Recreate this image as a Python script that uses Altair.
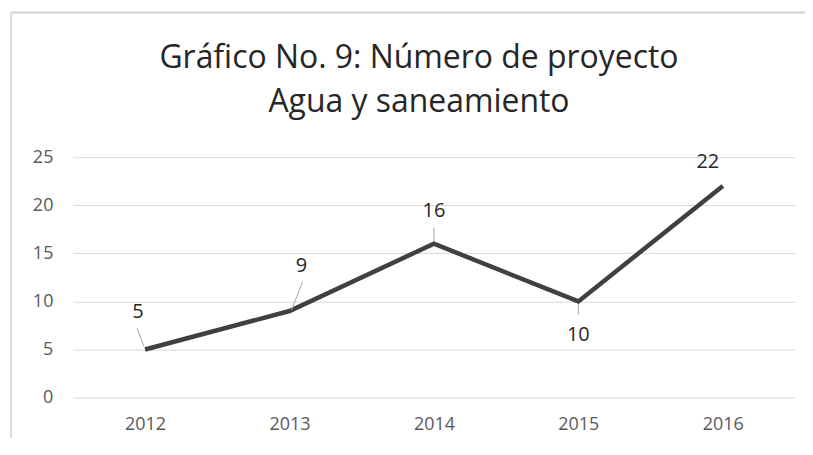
import altair as alt
import pandas as pd

years = ["2012", "2013", "2014", "2015", "2016"]
values = [5, 9, 16, 10, 22]
title_lines = ["Gráfico No. 9: Número de proyecto", "Agua y saneamiento"]
y_ticks = [0, 5, 10, 15, 20, 25]

df = pd.DataFrame({"year": years, "value": values})

FONT = "Open Sans"

# label offsets (px, relative to point) and leader lines
label_style = {
    "2012": dict(dx=-7, dy=-38, leader=(-8, -21, -1, -3)),
    "2013": dict(dx=12, dy=-45, leader=(13, -29, 2, -1)),
    "2014": dict(dx=0, dy=-33, leader=(0, -16, 0, -2)),
    "2015": dict(dx=0, dy=34, leader=(0, 3, 0, 13)),
    "2016": dict(dx=-15, dy=-24, leader=None),
}

y_scale = alt.Scale(domain=[0, 25], nice=False, zero=True)
x_scale = alt.Scale(type="point", padding=0.5)

x_enc = alt.X(
    "year:N",
    sort=years,
    scale=x_scale,
    axis=alt.Axis(
        title=None, labelAngle=0, domain=False, ticks=False,
        labelFont=FONT, labelFontSize=18, labelColor="#595959", labelPadding=18,
    ),
)
y_enc = alt.Y(
    "value:Q",
    scale=y_scale,
    axis=alt.Axis(
        title=None, values=y_ticks, domain=False, ticks=False,
        grid=True, gridColor="#d9d9d9", gridWidth=1,
        labelFont=FONT, labelFontSize=18, labelColor="#595959", labelPadding=20,
    ),
)

base = alt.Chart(df)

line = base.mark_line(color="#404040", strokeWidth=4.5, strokeJoin="miter").encode(x=x_enc, y=y_enc)

layers = [line]
for yr, st in label_style.items():
    sub = base.transform_filter(alt.datum.year == yr)
    layers.append(
        sub.mark_text(
            font=FONT, fontSize=20, color="#262626", baseline="middle", align="center",
            dx=st["dx"], dy=st["dy"],
        ).encode(
            x=alt.X("year:N", sort=years, scale=x_scale),
            y=alt.Y("value:Q", scale=y_scale),
            text="value:Q",
        )
    )
    if st["leader"] is not None:
        x1, y1, x2, y2 = st["leader"]
        layers.append(
            sub.mark_rule(
                color="#a6a6a6", strokeWidth=1,
                xOffset=x1, yOffset=y1, x2Offset=x2, y2Offset=y2,
            ).encode(
                x=alt.X("year:N", sort=years, scale=x_scale),
                y=alt.Y("value:Q", scale=y_scale),
                x2=alt.X2("year:N"), y2=alt.Y2("value:Q"),
            )
        )

# outer frame (decorative)
frame_left = alt.Chart(df).mark_rule(color="#d9d9d9", strokeWidth=1.5).encode(
    x=alt.value(-62), y=alt.value(-145), y2=alt.value(290)
)
frame_top = alt.Chart(df).mark_rule(color="#d9d9d9", strokeWidth=1.5).encode(
    x=alt.value(-62), x2=alt.value(740), y=alt.value(-145)
)
layers = [frame_left, frame_top] + layers

chart = alt.layer(*layers).properties(
    width=724,
    height=241,
    title=alt.TitleParams(
        title_lines, font=FONT, fontSize=32, fontWeight="normal", color="#262626",
        lineHeight=44, anchor="middle", dx=-15, offset=-107,
    ),
    padding={"left": 65, "top": 149, "right": 10, "bottom": 40},
    autosize="none",
).configure_view(stroke=None)

chart.save("out.html", embed_options={"renderer": "svg", "actions": False})
